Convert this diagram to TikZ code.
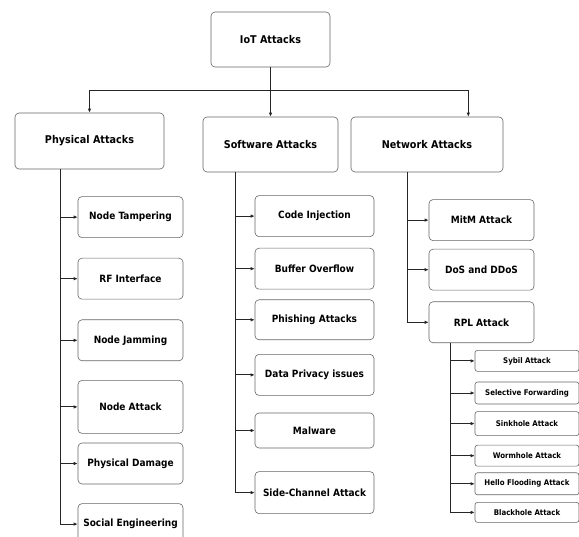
\documentclass[tikz,border=0pt]{standalone}
\usepackage{fontspec}
\setmainfont{DejaVu Sans Condensed}
\usetikzlibrary{positioning, arrows.meta, calc}

\begin{document}
\begin{tikzpicture}[
    x=1pt, y=1pt,
    box/.style={
        draw=black!60, line width=0.6pt,
        rounded corners=4pt,
        align=center, inner sep=1pt
    },
    top/.style={
        box,
        font=\bfseries\fontsize{10.7}{12}\selectfont,
        minimum height=55pt
    },
    leaf/.style={
        box,
        font=\bfseries\fontsize{10}{12}\selectfont,
        minimum width=105pt,
        minimum height=41pt
    },
    swleaf/.style={leaf, minimum width=119pt},
    subleaf/.style={
        box, rounded corners=2.5pt,
        font=\bfseries\fontsize{7.8}{9}\selectfont,
        minimum width=104pt,
        minimum height=21pt
    },
    arrow/.style={-{Latex[length=4pt,width=3.5pt]}, line width=0.8pt, draw=black!85}
]
\useasboundingbox (0,0) rectangle (579,-537);
\clip (0,0) rectangle (579,-537);

% ===================== ROOT AND CATEGORIES =====================
\node[top, minimum width=119pt] (iot) at (270.5,-39.5) {IoT Attacks};

\node[top, minimum width=149pt, minimum height=56pt] (phys) at (89.5,-141) {Physical Attacks};
\node[top, minimum width=135pt] (soft) at (270.5,-144.5) {Software Attacks};
\node[top, minimum width=152pt] (net) at (427,-144.5) {Network Attacks};

% ===================== PHYSICAL COLUMN =====================
\node[leaf, anchor=north west] (tamper) at ($(phys.south west)+(63,-27)$) {Node Tampering};
\node[leaf, below=20pt of tamper] (rf) {RF Interface};
\node[leaf, below=20pt of rf] (jam) {Node Jamming};
\node[leaf, below=19pt of jam, minimum height=53pt] (nattack) {Node Attack};
\node[leaf, below=9pt of nattack] (damage) {Physical Damage};
\node[leaf, below=19pt of damage] (social) {Social Engineering};

% ===================== SOFTWARE COLUMN =====================
\node[swleaf, anchor=north west] (inject) at ($(soft.south west)+(52,-23)$) {Code Injection};
\node[swleaf, below=11pt of inject] (buffer) {Buffer Overflow};
\node[swleaf, below=10pt of buffer, minimum height=40pt] (phishing) {Phishing Attacks};
\node[swleaf, below=14pt of phishing] (privacy) {Data Privacy issues};
\node[swleaf, below=17pt of privacy, minimum height=35pt] (malware) {Malware};
\node[swleaf, below=23pt of malware, minimum height=42pt] (side) {Side-Channel Attack};

% ===================== NETWORK COLUMN =====================
\node[leaf, anchor=north west] (mitm) at ($(net.south west)+(78,-27)$) {MitM Attack};
\node[leaf, below=8pt of mitm] (dos) {DoS and DDoS};
\node[leaf, below=11pt of dos] (rpl) {RPL Attack};

% RPL sub-attacks
\node[subleaf, anchor=north west] (sybil) at ($(rpl.south west)+(46,-7)$) {Sybil Attack};
\node[subleaf, below=10pt of sybil, minimum height=22pt] (selective) {Selective Forwarding};
\node[subleaf, below=7pt of selective, minimum height=24pt] (sinkhole) {Sinkhole Attack};
\node[subleaf, below=9pt of sinkhole] (wormhole) {Wormhole Attack};
\node[subleaf, below=6pt of wormhole, minimum height=22pt] (hello) {Hello Flooding Attack};
\node[subleaf, below=7pt of hello, minimum height=20pt] (blackhole) {Blackhole Attack};

% ===================== CONNECTORS =====================
\coordinate (bus) at ($(iot.south)+(0,-23)$);
\coordinate (netin) at ($(net.north east)+(-35,0)$);
\draw[arrow] (iot.south) -- (soft.north);
\draw[arrow] (bus) -| (phys.north);
\draw[arrow] (bus) -| (netin);

% trunks hang off each category at a fixed x
\coordinate (ptrunk) at ($(phys.south west)+(46,0)$);
\coordinate (strunk) at ($(soft.south west)+(33,0)$);
\coordinate (ntrunk) at ($(net.south west)+(57,0)$);
\coordinate (rtrunk) at ($(rpl.south west)+(22,0)$);

\foreach \k in {tamper,rf,jam,nattack,damage,social}
    \draw[arrow] (ptrunk) |- (\k.west);
\foreach \k in {inject,buffer,phishing,privacy,malware,side}
    \draw[arrow] (strunk) |- (\k.west);
\foreach \k in {mitm,dos,rpl}
    \draw[arrow] (ntrunk) |- (\k.west);
\foreach \k in {sybil,selective,sinkhole,wormhole,hello,blackhole}
    \draw[arrow] (rtrunk) |- (\k.west);

\end{tikzpicture}
\end{document}
